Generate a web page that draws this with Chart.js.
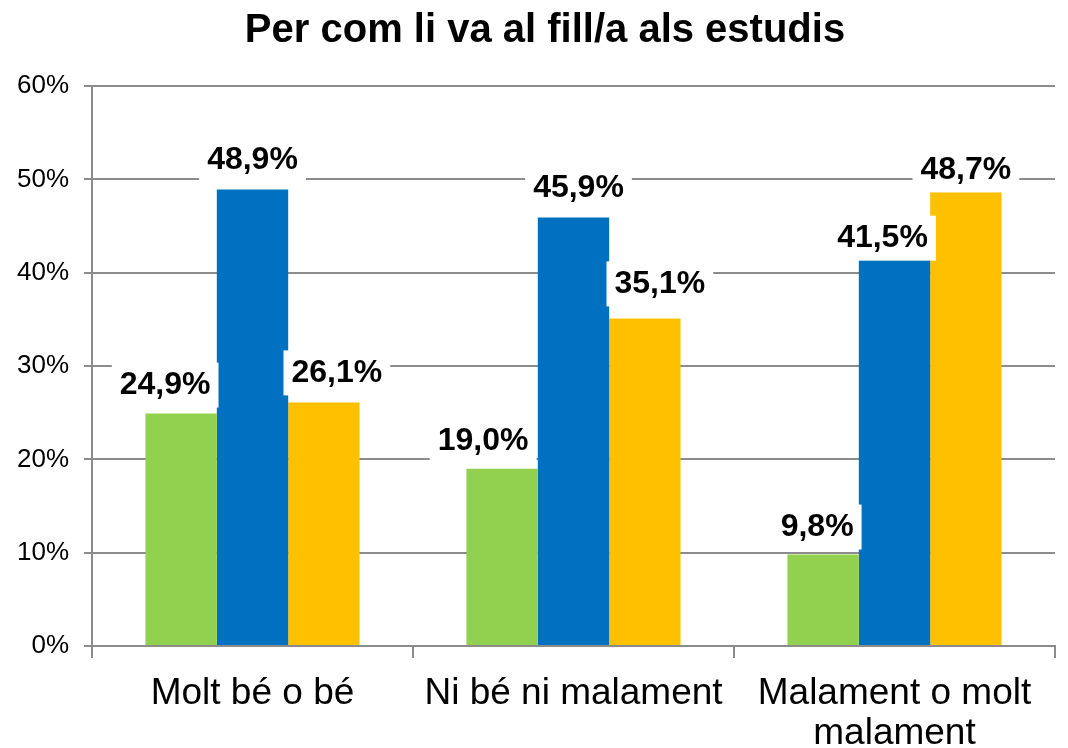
<!DOCTYPE html>
<html>
<head>
<meta charset="utf-8">
<script src="https://cdn.jsdelivr.net/npm/chart.js@4/dist/chart.umd.min.js"></script>
<style>
  html, body { margin: 0; padding: 0; background: #fff; }
  #wrap { width: 1068px; height: 748px; }
</style>
</head>
<body>
<div id="wrap"><canvas id="EstudisChart" width="1068" height="748"></canvas></div>
<script>
const chartTitle = 'Per com li va al fill/a als estudis';
const categories = [['Molt bé o bé'], ['Ni bé ni malament'], ['Malament o molt', 'malament']];
const serie1 = [24.9, 19.0, 9.8];
const serie2 = [48.9, 45.9, 41.5];
const serie3 = [26.1, 35.1, 48.7];
const yTicks = [0, 10, 20, 30, 40, 50, 60];

const gridColor = '#8c8c8c';
const fontFamily = '"Liberation Sans", Arial, sans-serif';

// label boxes are nudged a bit like in the original sheet
const labelOffsets = [
    [[-16, 29], [-19, 28], [-6, 28]],
    [[0, 30], [5, 30], [-12, 21]],
    [[13, 30], [15, 35], [0, 22]]
];

// title sits a little right of the canvas centre, so draw it by hand
const titleDraw = {
    id: 'titleDraw',
    afterDraw(chart) {
        const ctx = chart.ctx;
        ctx.save();
        ctx.font = 'bold 40px ' + fontFamily;
        ctx.textAlign = 'center';
        ctx.textBaseline = 'middle';
        ctx.fillStyle = '#000';
        ctx.fillText(chartTitle, 545, 31);
        ctx.restore();
    }
};

const barLabels = {
    id: 'barLabels',
    afterDatasetsDraw(chart) {
        const ctx = chart.ctx;
        ctx.save();
        ctx.font = 'bold 32px ' + fontFamily;
        ctx.textAlign = 'center';
        ctx.textBaseline = 'middle';
        chart.data.datasets.forEach((ds, i) => {
            const meta = chart.getDatasetMeta(i);
            meta.data.forEach((bar, j) => {
                const txt = ds.data[j].toFixed(1).replace('.', ',') + '%';
                const off = labelOffsets[i][j];
                const x = bar.x + off[0];
                const y = bar.y - off[1];
                const w = ctx.measureText(txt).width + 16;
                ctx.fillStyle = '#ffffff';
                ctx.fillRect(x - w / 2, y - 22, w, 45);
                ctx.fillStyle = '#000000';
                ctx.fillText(txt, x, y + 1);
            });
        });
        ctx.restore();
    }
};

let ctx = document.getElementById('EstudisChart').getContext('2d');
let chart = new Chart(ctx, {
    type: 'bar',
    data: {
        labels: categories,
        datasets: [
            { label: 'Sèrie 1', data: serie1, backgroundColor: '#92d050' },
            { label: 'Sèrie 2', data: serie2, backgroundColor: '#0070c0' },
            { label: 'Sèrie 3', data: serie3, backgroundColor: '#ffc000' }
        ]
    },
    options: {
        responsive: false,
        animation: false,
        categoryPercentage: 0.667,
        barPercentage: 1.0,
        layout: { padding: { left: 0, right: 13, top: 86, bottom: 0 } },
        plugins: {
            legend: { display: false },
            tooltip: { enabled: false },
            title: { display: false }
        },
        scales: {
            x: {
                grid: { drawOnChartArea: false, drawTicks: true, tickLength: 12, color: gridColor, lineWidth: 2 },
                border: { display: true, color: gridColor, width: 2 },
                ticks: {
                    color: '#000',
                    padding: 15,
                    maxRotation: 0,
                    font: { family: fontFamily, size: 37, lineHeight: 1.1 }
                },
                afterFit(scale) { scale.height = 102; }
            },
            y: {
                min: 0,
                max: 60,
                afterBuildTicks(scale) { scale.ticks = yTicks.map(v => ({ value: v })); },
                grid: { color: gridColor, lineWidth: 2, tickLength: 8 },
                border: { display: true, color: gridColor, width: 2 },
                ticks: {
                    color: '#000',
                    padding: 15,
                    font: { family: fontFamily, size: 26 },
                    callback: v => v + '%'
                },
                afterFit(scale) { scale.width = 92; }
            }
        }
    },
    plugins: [barLabels, titleDraw]
});
</script>
</body>
</html>
